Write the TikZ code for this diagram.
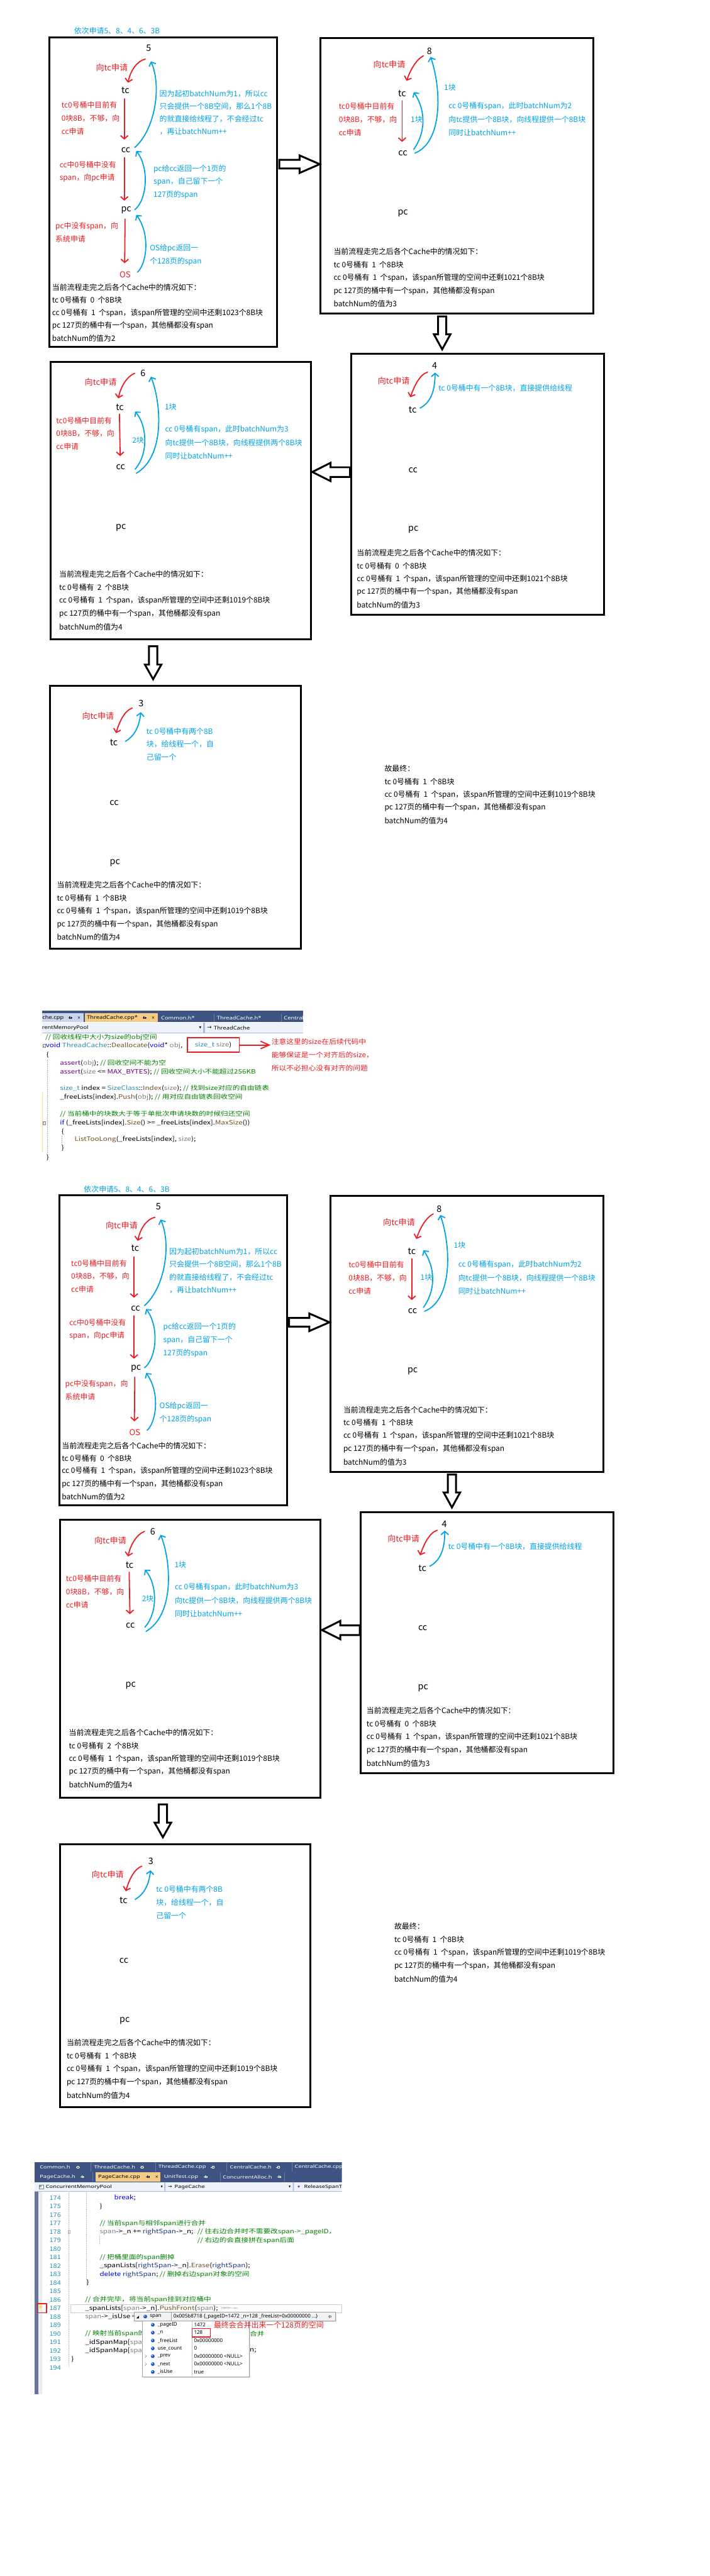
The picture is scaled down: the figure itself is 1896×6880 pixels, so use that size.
\documentclass[tikz,border=0pt]{standalone}
\usepackage{fontspec}
\usepackage{graphicx}
\setmainfont{Noto Sans CJK SC}
\newfontfamily\uifont{Noto Sans}
\newfontfamily\symfont{DejaVu Sans}
\usetikzlibrary{arrows.meta}
\definecolor{pred}{HTML}{ED1C24}
\definecolor{pblue}{HTML}{00A2E8}
\definecolor{vsnavy}{HTML}{3F5383}
\definecolor{vssep}{HTML}{6A7CA8}
\definecolor{tabsel}{HTML}{F5CC84}
\definecolor{tablight}{HTML}{CBD4EF}
\definecolor{navbg}{HTML}{EEF2FB}
\definecolor{navline}{HTML}{A9B9E0}
\definecolor{cgreen}{HTML}{008000}
\definecolor{ckw}{HTML}{0000FF}
\definecolor{ctype}{HTML}{2B91AF}
\definecolor{cmacro}{HTML}{6F008A}
\definecolor{cfunc}{HTML}{74531F}
\definecolor{cparam}{HTML}{808080}
\definecolor{cvar}{HTML}{1F377F}
\definecolor{barpurple}{HTML}{68739B}
\definecolor{ttborder}{HTML}{A0A0A0}
\definecolor{ttbg}{HTML}{F2F2F2}
\definecolor{ttblue}{HTML}{1E5BC6}

\newcommand{\txtlines}[6]{%
  \foreach \tlx [count=\tli] in {#6}{%
    \node[#2, anchor=west] (#1\tli) at (#3,{#4+(\tli-1)*#5}) {\tlx};}}

\newcommand{\pinicon}[3]{%
  \draw[#3, line width=0.9pt] (#1,#2) -- ++(3,0) (#1+3,#2-3.5) -- (#1+3,#2+3.5) (#1+3,#2-2) rectangle (#1+8,#2+2) (#1+8,#2) -- (#1+10,#2);}

\newcommand{\halfdiagram}{%
\node[btx, anchor=west] (title) at (198,83) {依次申请5、8、4、6、3B};
%% ---------- Panel 1
\draw[panel] (132,100) rectangle (740,927);
\node[lbl] (a5) at (397,129) {5};
\node[lbl] (atc) at (335,241) {tc};
\node[lbl] (acc) at (336,401) {cc};
\node[lbl] (apc) at (337,562) {pc};
\node[lbl, text=pred, font=\fontsize{22}{22}\selectfont] (aos) at (334,733) {OS};
\node[reqtx, anchor=west] (areq) at (256,180) {向tc申请};
\txtlines{ar}{rtx}{164}{281}{35}{tc0号桶中目前有,0块8B，不够，向,cc申请}
\txtlines{as}{rtx}{159}{440}{35}{cc中0号桶中没有,span，向pc申请}
\txtlines{at}{rtx}{148}{604}{34}{pc中没有span，向,系统申请}
\txtlines{ab}{btx}{426}{250}{34}{因为起初batchNum为1，所以cc,只会提供一个8B空间，那么1个8B,的就直接给线程了，不会经过tc,，再让batchNum++}
\txtlines{ac}{btx}{410}{451}{35}{pc给cc返回一个1页的,span，自己留下一个,127页的span}
\txtlines{ad}{btx}{400}{663}{35}{OS给pc返回一,个128页的span}
\txtlines{ak}{ktx}{139}{768}{34}{当前流程走完之后各个Cache中的情况如下：,tc 0号桶有\ \ 0\ \ 个8B块,cc 0号桶有\ \ 1\ \ 个span，该span所管理的空间中还剩1023个8B块,pc 127页的桶中有一个span，其他桶都没有span,batchNum的值为2}
\draw[rarr] ([shift={(-9,29)}]a5.center) .. controls (365,163) and (348,190) .. ([shift={(7,-20)}]atc.center);
\draw[rarr] ([shift={(-3,23)}]atc.center) -- ([shift={(-4,-28)}]acc.center);
\draw[rarr] ([shift={(-4,20)}]acc.center) -- ([shift={(-5,-26)}]apc.center);
\draw[rarr] ([shift={(-3,23)}]apc.center) -- ([shift={(-1,-30)}]aos.center);
\draw[barr] ([shift={(33,-6)}]aos.center) .. controls (392,705) and (402,625) .. ([shift={(27,12)}]apc.center);
\draw[barr] ([shift={(23,-2)}]apc.center) .. controls (392,535) and (400,450) .. ([shift={(28,2)}]acc.center);
\draw[barr] ([shift={(24,-7)}]acc.center) .. controls (415,345) and (432,230) .. ([shift={(6,35)}]a5.center);
%% arrow P1 -> P2
\draw[blockarr] (746,427) -- (800,427) -- (800,415) -- (854,438.5) -- (800,462) -- (800,450) -- (746,450) -- cycle;
%% ---------- Panel 2
\draw[panel] (856,101) rectangle (1585,838);
\node[lbl] (b8) at (1147,136) {8};
\node[lbl] (btc) at (1074,249) {tc};
\node[lbl] (bcc) at (1076,409) {cc};
\node[lbl] (bpc) at (1076,569) {pc};
\node[reqtx, anchor=west] (breq) at (997,172) {向tc申请};
\txtlines{br}{rtx}{905}{284}{35.5}{tc0号桶中目前有,0块8B，不够，向,cc申请}
\node[btx, anchor=west] (bkuaiA) at (1097,319) {1块};
\node[btx, anchor=west] (bkuaiB) at (1186,233) {1块};
\txtlines{bb}{btx}{1198}{284}{35.5}{cc 0号桶有span，此时batchNum为2,向tc提供一个8B块，向线程提供一个8B块,同时让batchNum++}
\txtlines{bk}{ktx}{891}{672}{35}{当前流程走完之后各个Cache中的情况如下：,tc 0号桶有\ \ 1\ \ 个8B块,cc 0号桶有\ \ 1\ \ 个span，该span所管理的空间中还剩1021个8B块,pc 127页的桶中有一个span，其他桶都没有span,batchNum的值为3}
\draw[rarr] ([shift={(-16,13)}]b8.center) .. controls (1110,160) and (1095,190) .. ([shift={(12,-33)}]btc.center);
\draw[rarr] ([shift={(0,20)}]btc.center) -- ([shift={(-2,-30)}]bcc.center);
\draw[barr] ([shift={(29,-10)}]bcc.center) .. controls (1140,350) and (1135,290) .. ([shift={(31,-3)}]btc.center);
\draw[barr] ([shift={(32,0)}]bcc.center) .. controls (1182,380) and (1180,240) .. ([shift={(3,16)}]b8.center);
%% arrow P2 -> P3
\draw[blockarr] (1170,845) -- (1192,845) -- (1192,893) -- (1203,893) -- (1181,933) -- (1159,893) -- (1170,893) -- cycle;
%% ---------- Panel 3
\draw[panel] (938,945) rectangle (1613,1642);
\node[lbl] (c4) at (1161,977) {4};
\node[lbl] (ctc) at (1102,1095) {tc};
\node[lbl] (ccc) at (1103,1255) {cc};
\node[lbl] (cpc) at (1104,1415) {pc};
\node[reqtx, anchor=west] (creq) at (1009,1017) {向tc申请};
\node[btx, anchor=west] (cb1) at (1171,1037) {tc 0号桶中有一个8B块，直接提供给线程};
\txtlines{ck}{ktx}{953}{1476}{35}{当前流程走完之后各个Cache中的情况如下：,tc 0号桶有\ \ 0\ \ 个8B块,cc 0号桶有\ \ 1\ \ 个span，该span所管理的空间中还剩1021个8B块,pc 127页的桶中有一个span，其他桶都没有span,batchNum的值为3}
\draw[rarr] ([shift={(-19,17)}]c4.center) .. controls (1120,1000) and (1105,1035) .. ([shift={(-6,-34)}]ctc.center);
\draw[barr] ([shift={(20,-5)}]ctc.center) .. controls (1150,1075) and (1162,1045) .. ([shift={(1,18)}]c4.center);
%% arrow P3 -> P4
\draw[blockarr] (935,1248) -- (883,1248) -- (883,1236) -- (834,1260.5) -- (883,1285) -- (883,1274) -- (935,1274) -- cycle;
%% ---------- Panel 4
\draw[panel] (135,966) rectangle (830,1708);
\node[lbl] (d6) at (382,997) {6};
\node[lbl] (dtc) at (320,1087) {tc};
\node[lbl] (dcc) at (322,1248) {cc};
\node[lbl] (dpc) at (323,1409) {pc};
\node[reqtx, anchor=west] (dreq) at (226,1021) {向tc申请};
\txtlines{dr}{rtx}{150}{1123}{35}{tc0号桶中目前有,0块8B，不够，向,cc申请}
\node[btx, anchor=west] (dkuaiA) at (353,1176) {2块};
\node[btx, anchor=west] (dkuaiB) at (440,1086) {1块};
\txtlines{db}{btx}{441}{1147}{35}{cc 0号桶有span，此时batchNum为3,向tc提供一个8B块，向线程提供两个8B块,同时让batchNum++}
\txtlines{dk}{ktx}{158}{1534}{35}{当前流程走完之后各个Cache中的情况如下：,tc 0号桶有\ \ 2\ \ 个8B块,cc 0号桶有\ \ 1\ \ 个span，该span所管理的空间中还剩1019个8B块,pc 127页的桶中有一个span，其他桶都没有span,batchNum的值为4}
\draw[rarr] ([shift={(-22,0)}]d6.center) .. controls (338,1005) and (322,1035) .. ([shift={(-4,-23)}]dtc.center);
\draw[rarr] ([shift={(-1,19)}]dtc.center) -- ([shift={(-1,-30)}]dcc.center);
\draw[barr] ([shift={(39,5)}]dcc.center) .. controls (395,1215) and (395,1140) .. ([shift={(41,12)}]dtc.center);
\draw[barr] ([shift={(42,16)}]dcc.center) .. controls (440,1220) and (432,1080) .. ([shift={(21,9)}]d6.center);
%% arrow P4 -> P5
\draw[blockarr] (398,1726) -- (420,1726) -- (420,1775) -- (431,1775) -- (409,1814) -- (387,1775) -- (398,1775) -- cycle;
%% ---------- Panel 5
\draw[panel] (134,1832) rectangle (803,2534);
\node[lbl] (e3) at (377,1878) {3};
\node[lbl] (etc) at (304,1983) {tc};
\node[lbl] (ecc) at (305,2144) {cc};
\node[lbl] (epc) at (307,2304) {pc};
\node[reqtx, anchor=west] (ereq) at (219,1913) {向tc申请};
\txtlines{eb}{btx}{391}{1953}{35}{tc 0号桶中有两个8B,块，给线程一个，自,己留一个}
\txtlines{ek}{ktx}{152}{2363}{35}{当前流程走完之后各个Cache中的情况如下：,tc 0号桶有\ \ 1\ \ 个8B块,cc 0号桶有\ \ 1\ \ 个span，该span所管理的空间中还剩1019个8B块,pc 127页的桶中有一个span，其他桶都没有span,batchNum的值为4}
\draw[rarr] ([shift={(-24,13)}]e3.center) .. controls (332,1898) and (318,1930) .. ([shift={(6,-25)}]etc.center);
\draw[barr] ([shift={(31,-3)}]etc.center) .. controls (360,1965) and (372,1940) .. ([shift={(-1,24)}]e3.center);
%% ---------- final text
\txtlines{fk}{ktx}{1027}{2052}{35}{故最终：,tc 0号桶有\ \ 1\ \ 个8B块,cc 0号桶有\ \ 1\ \ 个span，该span所管理的空间中还剩1019个8B块,pc 127页的桶中有一个span，其他桶都没有span,batchNum的值为4}
}

\begin{document}
\begin{tikzpicture}[x=1pt, y=-1pt,
  lbl/.style={inner sep=0pt, font=\fontsize{24}{24}\selectfont},
  rtx/.style={inner sep=0pt, text=pred, font=\fontsize{20}{20}\selectfont},
  btx/.style={inner sep=0pt, text=pblue, font=\fontsize{20}{20}\selectfont},
  ktx/.style={inner sep=0pt, text=black, font=\fontsize{20}{20}\selectfont},
  reqtx/.style={inner sep=0pt, text=pred, font=\fontsize{22}{22}\selectfont},
  rarr/.style={draw=pred, line width=3pt, line cap=round, line join=round, -{Straight Barb[length=9pt,width=20pt]}},
  barr/.style={draw=pblue, line width=3pt, line cap=round, line join=round, -{Straight Barb[length=9pt,width=20pt]}},
  panel/.style={draw=black, line width=5pt},
  blockarr/.style={draw=black, line width=5pt, fill=white, line join=miter},
  code/.style={inner sep=0pt, anchor=west, font=\fontsize{16}{16}\selectfont, xscale=1.22},
  lnum/.style={inner sep=0pt, anchor=east, text=ctype, font=\fontsize{16}{16}\selectfont, xscale=1.15},
  tabtx/.style={inner sep=0pt, anchor=west, font=\uifont\fontsize{13}{13}\selectfont, xscale=1.2},
  tabtxs/.style={inner sep=0pt, anchor=west, font=\uifont\fontsize{12}{12}\selectfont, xscale=1.3, text=white},
  symtx/.style={inner sep=0pt, font=\symfont\fontsize{11}{11}\selectfont},
  tttx/.style={inner sep=0pt, anchor=west, font=\uifont\fontsize{13.5}{13.5}\selectfont},
  notetx/.style={inner sep=0pt, text=pred, font=\fontsize{18}{18}\selectfont, xscale=1.1}
]
\useasboundingbox (0,0) rectangle (1896,6880);
\fill[white] (0,0) rectangle (1896,6880);

\halfdiagram
\begin{scope}[shift={(26,3093)}, name prefix=B-]
\halfdiagram
\end{scope}

%% ================= Screenshot 1 =================
\begin{scope}
\clip (112,2690) rectangle (1000,3110);
\fill[vsnavy] (112,2699) rectangle (810,2730);
\fill[tablight] (112,2706) rectangle (224,2730);
\fill[tabsel] (226,2706) rectangle (421,2730);
\draw[vssep, line width=1pt] (572,2708) -- (572,2730) (751,2708) -- (751,2730);
\node[tabtx] (s1tabA) at (113,2718) {che.cpp};
\pinicon{183}{2718}{black}
\node[symtx] (s1xA) at (211,2718) {×};
\node[tabtx] (s1tabB) at (232,2718) {ThreadCache.cpp*};
\pinicon{381}{2718}{black}
\node[symtx] (s1xB) at (409,2718) {×};
\node[tabtx, text=white] (s1tabC) at (430,2718) {Common.h*};
\node[tabtx, text=white] (s1tabD) at (579,2718) {ThreadCache.h*};
\node[tabtx, text=white] (s1tabE) at (758,2718) {Central};
\fill[navbg] (112,2731) rectangle (810,2758);
\draw[navline, line width=1.5pt] (112,2758.5) -- (810,2758.5);
\fill[navline] (543,2731) rectangle (547,2758);
\node[tabtx] (s1navA) at (112,2745) {rentMemoryPool};
\node[symtx, font=\symfont\fontsize{8}{8}\selectfont] (s1navArr) at (535,2745) {▼};
\node[symtx, font=\symfont\fontsize{15}{15}\selectfont] (s1navB) at (559,2745) {→};
\node[tabtx] (s1navC) at (571,2745) {ThreadCache};
\end{scope}
\fill[yellow!60!orange!50] (112,2918) rectangle (114.5,3077);
\draw[gray!60, dotted] (127,2830) -- (127,3082) (165,3033) -- (165,3058);
\draw[gray] (114.5,2789) rectangle (120.5,2797) (116,2793) -- (119,2793);
\draw[gray] (114.5,2995) rectangle (120.5,3003) (116,2999) -- (119,2999);
\node[code, text=cgreen] (s1c1) at (121,2771) {// 回收线程中大小为size的obj空间};
\node[code] (s1c2) at (122,2793) {\textcolor{ckw}{void} \textcolor{ctype}{ThreadCache}::\textcolor{cfunc}{Deallocate}(\textcolor{ckw}{void}* \textcolor{cparam}{obj},};
\node[draw=pred, line width=3pt, inner sep=0pt, minimum width=139pt, minimum height=38pt, font=\fontsize{16}{16}\selectfont] (sz) at (569.5,2791) {\scalebox{1.22}[1]{\textcolor{ctype}{size\_t} \textcolor{cparam}{size})}};
\node[code] (s1c3) at (124,2817) {\{};
\node[code] (s1c4) at (160,2839) {\textcolor{cmacro}{assert}(\textcolor{cparam}{obj}); \textcolor{cgreen}{// 回收空间不能为空}};
\node[code] (s1c5) at (160,2862) {\textcolor{cmacro}{assert}(\textcolor{cparam}{size} <= \textcolor{cmacro}{MAX\_BYTES}); \textcolor{cgreen}{// 回收空间大小不能超过256KB}};
\node[code] (s1c6) at (160,2907) {\textcolor{ctype}{size\_t} index = \textcolor{ctype}{SizeClass}::\textcolor{cfunc}{Index}(\textcolor{cparam}{size}); \textcolor{cgreen}{// 找到size对应的自由链表}};
\node[code] (s1c7) at (160,2930) {\_freeLists[index].\textcolor{cfunc}{Push}(\textcolor{cparam}{obj}); \textcolor{cgreen}{// 用对应自由链表回收空间}};
\node[code, text=cgreen] (s1c8) at (160,2976) {// 当前桶中的块数大于等于单批次申请块数的时候归还空间};
\node[code] (s1c9) at (160,2999) {\textcolor{ckw}{if} (\_freeLists[index].\textcolor{cfunc}{Size}() >= \_freeLists[index].\textcolor{cfunc}{MaxSize}())};
\node[code] (s1c10) at (164,3022) {\{};
\node[code] (s1c11) at (199,3044) {\textcolor{cfunc}{ListTooLong}(\_freeLists[index], \textcolor{cparam}{size});};
\node[code] (s1c12) at (164,3067) {\}};
\node[code] (s1c13) at (124,3091) {\}};
\txtlines{note}{notetx}{725}{2782}{35}{注意这里的size在后续代码中,能够保证是一个对齐后的size，,所以不必担心没有对齐的问题}
\draw[pred, line width=3pt] (sz.east) -- ([xshift=-6pt]sz.east -| note1.west);
\draw[pred, line width=3pt, line join=miter] ([shift={(-29,-10)}]note1.west |- sz.east) -- ([shift={(-6,0)}]note1.west |- sz.east) -- ([shift={(-29,10)}]note1.west |- sz.east);

%% ================= Screenshot 2 =================
\begin{scope}
\clip (92,5770) rectangle (913,5855);
\fill[vsnavy] (92,5774) rectangle (913,5828);
\fill[tabsel] (256,5801) rectangle (429,5827);
\draw[vssep, line width=1pt] (242,5776) -- (242,5800) (415,5776) -- (415,5800) (605,5776) -- (605,5800) (780,5776) -- (780,5800);
\draw[vssep, line width=1pt] (248,5802) -- (248,5826) (589,5802) -- (589,5826) (759,5802) -- (759,5826);
\node[tabtxs] (s2tA) at (106,5788) {Common.h};
\pinicon{203}{5788}{white}
\node[tabtxs] (s2tB) at (251,5788) {ThreadCache.h};
\pinicon{374}{5788}{white}
\node[tabtxs] (s2tC) at (423,5788) {ThreadCache.cpp};
\pinicon{563}{5788}{white}
\node[tabtxs] (s2tD) at (614,5788) {CentralCache.h};
\pinicon{738}{5788}{white}
\node[tabtxs] (s2tE) at (787,5788) {CentralCache.cpp};
\node[tabtxs] (s2tF) at (106,5814) {PageCache.h};
\pinicon{215}{5814}{white}
\node[tabtxs, text=black] (s2tG) at (262,5814) {PageCache.cpp};
\pinicon{390}{5814}{black}
\node[symtx] (s2xG) at (419,5814) {×};
\node[tabtxs] (s2tH) at (438,5814) {UnitTest.cpp};
\pinicon{545}{5814}{white}
\node[tabtxs] (s2tI) at (595,5814) {ConcurrentAlloc.h};
\pinicon{741}{5814}{white}
\fill[navbg] (92,5828) rectangle (913,5853);
\draw[navline, line width=1pt] (92,5853) -- (913,5853);
\fill[navline] (439,5828) rectangle (442,5853) (782,5828) rectangle (785,5853);
\draw[gray, fill=white] (104,5835) rectangle (116,5846);
\fill[ctype!70] (106,5837) rectangle (111,5842);
\node[tabtxs, text=black] (s2nA) at (122,5841) {ConcurrentMemoryPool};
\node[symtx, font=\symfont\fontsize{7}{7}\selectfont] (s2nB) at (432,5841) {▼};
\node[symtx, font=\symfont\fontsize{13}{13}\selectfont] (s2nC) at (454,5841) {→};
\node[tabtxs, text=black] (s2nD) at (466,5841) {PageCache};
\node[symtx, font=\symfont\fontsize{7}{7}\selectfont] (s2nE) at (774,5841) {▼};
\node[symtx, text=cmacro, font=\symfont\fontsize{9}{9}\selectfont] (s2nF) at (798,5841) {◈};
\node[tabtxs, text=black] (s2nG) at (812,5841) {ReleaseSpanToPageCache};
\end{scope}
\fill[barpurple] (92,5853) rectangle (102,6394);
\fill[gray!15] (102,5853) rectangle (112,6394);
\foreach \n in {174,...,194}{\node[lnum] (ln\n) at (163,{5893+(\n-175)*22.67}) {\n};}
\draw[gray!50, dotted] (184,5855) -- (184,6320) (231,5855) -- (231,6100) (266,5970) -- (266,5995);
\draw[gray!60] (181,5957) rectangle (187,5965) (182.5,5961) -- (185.5,5961);
\draw[gray!40] (188,6155) rectangle (913,6176);
\node[code] (s2c174) at (305,5870) {\textcolor{ckw}{break};};
\node[code] (s2c175) at (266,5893) {\}};
\node[code, text=cgreen] (s2c177) at (266,5938) {// 当前span与相邻span进行合并};
\node[code] (s2c178) at (266,5961) {\textcolor{cparam}{span}->\_n += \textcolor{cvar}{rightSpan}->\_n;};
\node[code, text=cgreen] (s2c178b) at (527,5961) {// 往右边合并时不需要改span->\_pageID，};
\node[code, text=cgreen] (s2c179) at (527,5984) {// 右边的会直接拼在span后面};
\node[code, text=cgreen] (s2c181) at (266,6029) {// 把桶里面的span删掉};
\node[code] (s2c182) at (266,6052) {\_spanLists[\textcolor{cvar}{rightSpan}->\_n].\textcolor{cfunc}{Erase}(\textcolor{cvar}{rightSpan});};
\node[code] (s2c183) at (266,6074) {\textcolor{ckw}{delete} \textcolor{cvar}{rightSpan}; \textcolor{cgreen}{// 删掉右边span对象的空间}};
\node[code] (s2c184) at (231,6097) {\}};
\node[code, text=cgreen] (s2c186) at (227,6142) {// 合并完毕，将当前span挂到对应桶中};
\node[code] (s2c187) at (227,6165) {\_spanLists[\textcolor{cparam}{span}->\_n].\textcolor{cfunc}{PushFront}(\textcolor{cparam}{span});};
\node[inner sep=0pt, anchor=west, text=gray, font=\fontsize{6}{6}\selectfont] (s2perf) at (590,6164) {已用时间 <= 4ms};
\node[code] (s2c188) at (227,6188) {\textcolor{cparam}{span}->\_isUse =};
\node[code, text=cgreen] (s2c190) at (227,6233) {// 映射当前span的};
\node[code, text=cgreen] (s2c190b) at (667,6233) {合并};
\node[code] (s2c191) at (227,6256) {\_idSpanMap[\textcolor{cparam}{span}-};
\node[code] (s2c192) at (227,6278) {\_idSpanMap[\textcolor{cparam}{span}-};
\node[code] (s2c192b) at (667,6278) {n;};
\node[code] (s2c193) at (190,6301) {\}};
\draw[pred, line width=3pt] (100,6153) rectangle (124,6177);
\fill[yellow!90!orange] (108,6161) circle (3.5);
%% debugger tooltip
\fill[black!12] (361,6178) rectangle (898,6202);
\draw[ttborder, fill=ttbg] (358,6175) rectangle (895,6199);
\fill[black] (364,6192) -- (371,6185) -- (371,6192) -- cycle;
\fill[ttblue] (388,6187) circle (5);
\fill[white] (386.5,6185.5) circle (1.6);
\node[tttx] (ttspan) at (400,6187) {span};
\draw[ttborder] (457,6176) -- (457,6198);
\node[tttx] (ttval) at (463,6187) {0x005b8718 \{\_pageID=1472 \_n=128 \_freeList=0x00000000 ...\}};
\pinicon{876}{6187}{gray}
\fill[black!12] (383,6202) rectangle (668,6350);
\draw[ttborder, fill=white] (380,6199) rectangle (665,6347);
\draw[ttborder!60] (512,6200) -- (512,6346);
\foreach \nm/\vl [count=\k] in {\_pageID/1472, \_n/128, \_freeList/0x00000000, use\_count/0, \_prev/0x00000000 <NULL>, \_next/0x00000000 <NULL>, \_isUse/true}{
  \fill[ttblue] (408,{6209+(\k-1)*21}) circle (5);
  \fill[white] (406.5,{6207.5+(\k-1)*21}) circle (1.6);
  \node[tttx] (ttn\k) at (421,{6209+(\k-1)*21}) {\nm};
  \node[tttx] (ttv\k) at (518,{6209+(\k-1)*21}) {\vl};
}
\draw[black!70] (387,6289) -- (391,6293) -- (387,6297) (387,6310) -- (391,6314) -- (387,6318);
\draw[pred, line width=3pt] (513,6219) rectangle (562,6241);
\node[rtx, anchor=west] (finalnote) at (571,6210) {最终会合并出来一个128页的空间};
\end{tikzpicture}
\end{document}
